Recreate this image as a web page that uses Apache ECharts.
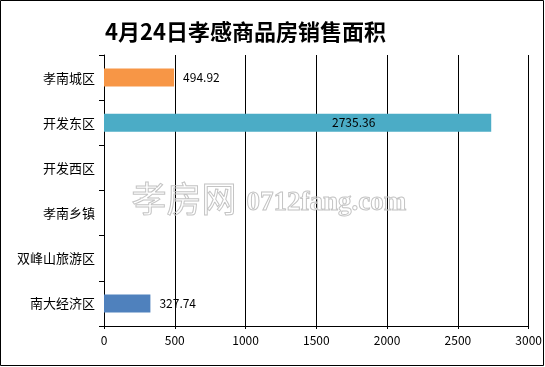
<!DOCTYPE html>
<html><head><meta charset="utf-8">
<script src="https://cdn.jsdelivr.net/npm/echarts@6/dist/echarts.min.js"></script>
<style>html,body{margin:0;padding:0;background:#fff}#c{width:545px;height:367px}</style>
</head><body><div id="c"></div>
<script>
const titleText = '4月24日孝感商品房销售面积';
const categories = ['孝南城区', '开发东区', '开发西区', '孝南乡镇', '双峰山旅游区', '南大经济区'];
const areaValues = [494.92, 2735.36, null, null, null, 327.74];
const barColors = ['#F79646', '#4BACC6', '#9BBB59', '#8064A2', '#C0504D', '#4F81BD'];
const axisMax = 3000;
const axisStep = 500;

const chart = echarts.init(document.getElementById('c'), null, {renderer: 'canvas'});
const cn = '"Noto Sans CJK SC", sans-serif';

const cats = categories.slice().reverse();
const vals = areaValues.slice().reverse();
const cols = barColors.slice().reverse();

const data = vals.map((v, i) => {
  const item = {value: v == null ? '-' : v, itemStyle: {color: cols[i]}};
  if (v != null && v > 2000) {
    item.label = {position: [228, '50%'], align: 'left', verticalAlign: 'middle', distance: 0};
  }
  return item;
});

chart.setOption({
  animation: false,
  backgroundColor: '#fff',
  title: {
    text: titleText, left: 100, top: 16,
    textStyle: {fontFamily: cn, fontSize: 22, fontWeight: 'bold', color: '#000'}
  },
  grid: {left: 104, right: 16, top: 55, bottom: 41, containLabel: false},
  xAxis: {
    type: 'value', min: 0, max: axisMax, interval: axisStep,
    axisLine: {show: true, lineStyle: {color: '#000', width: 1}},
    axisTick: {show: true, length: 3, lineStyle: {color: '#000'}},
    splitLine: {show: true, lineStyle: {color: '#000', width: 1}},
    axisLabel: {color: '#000', fontSize: 12, fontFamily: cn, margin: 8, formatter: v => String(v)}
  },
  yAxis: {
    type: 'category', data: cats,
    axisLine: {show: true, lineStyle: {color: '#000', width: 1}},
    axisTick: {show: true, length: 5, lineStyle: {color: '#000'}},
    axisLabel: {color: '#000', fontSize: 13, fontFamily: cn, margin: 9}
  },
  series: [{
    type: 'bar', data: data, barWidth: '40%', z: 3,
    label: {
      show: true, position: 'right', distance: 9,
      color: '#000', fontSize: 12, fontFamily: cn,
      formatter: p => Number(p.value).toFixed(2)
    }
  }],
  graphic: [
    {type: 'rect', shape: {x: 0.5, y: 0.5, width: 543, height: 365},
     style: {fill: 'none', stroke: '#000', lineWidth: 1}, z: 100, silent: true},
    {type: 'text', left: 131, top: 181, z: 1, silent: true,
     style: {text: '孝房网', font: '35px "Noto Sans CJK SC"', fill: 'rgba(255,255,255,0)', stroke: '#c4c4c4', lineWidth: 1}},
    {type: 'text', left: 246, top: 189, z: 1, silent: true,
     style: {text: '0712fang.com', font: 'bold 27px "Liberation Serif"', fill: 'rgba(255,255,255,0)', stroke: '#c4c4c4', lineWidth: 1}}
  ]
});
</script></body></html>
